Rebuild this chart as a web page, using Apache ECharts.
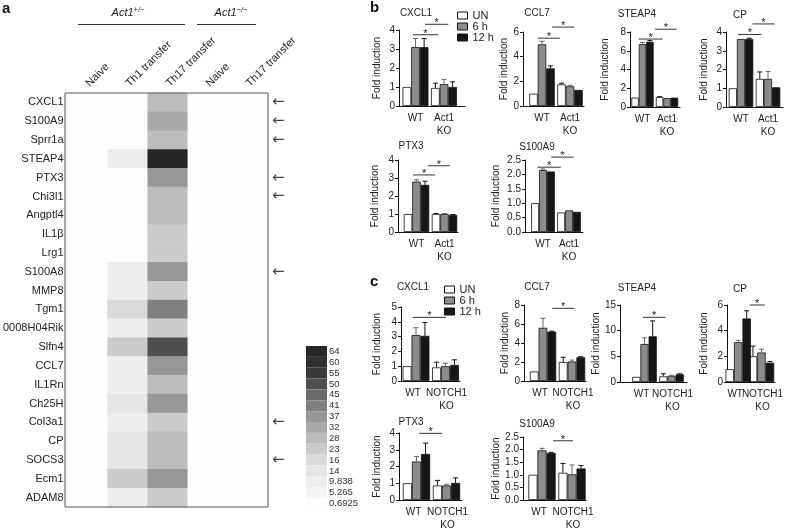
<!DOCTYPE html>
<html><head><meta charset="utf-8">
<script src="https://cdn.jsdelivr.net/npm/echarts@6/dist/echarts.min.js"></script>
<style>html,body{margin:0;padding:0;background:#fff}#c{width:786px;height:532px}</style>
</head><body><div id="c"></div>
<script>
const FONT = 'Liberation Sans, Arial, Helvetica, sans-serif';

// ---------- Panel a: heatmap data ----------
const genes = ['CXCL1','S100A9','Sprr1a','STEAP4','PTX3','Chi3l1','Angptl4','IL1β','Lrg1','S100A8','MMP8','Tgm1','0008H04Rik','Slfn4','CCL7','IL1Rn','Ch25H','Col3a1','CP','SOCS3','Ecm1','ADAM8'];
const conditions = ['Naive','Th1 transfer','Th17 transfer','Naive','Th17 transfer'];
const hetNaive = [0.6925,0.6925,0.6925,0.6925,0.6925,0.6925,0.6925,0.6925,0.6925,0.6925,0.6925,0.6925,0.6925,0.6925,0.6925,0.6925,0.6925,0.6925,0.6925,0.6925,0.6925,0.6925];
const hetTh1 = [0.6925,0.6925,0.6925,9.838,0.6925,0.6925,0.6925,0.6925,0.6925,9.838,9.838,16,9.838,23,9.838,9.838,14,9.838,14,14,23,9.838];
const hetTh17 = [28,32,28,64,37,28,28,23,23,37,23,41,23,50,37,28,37,23,28,28,37,23];
const koNaive = [0.6925,0.6925,0.6925,0.6925,0.6925,0.6925,0.6925,0.6925,0.6925,0.6925,0.6925,0.6925,0.6925,0.6925,0.6925,0.6925,0.6925,0.6925,0.6925,0.6925,0.6925,0.6925];
const koTh17 = [0.6925,0.6925,0.6925,0.6925,0.6925,0.6925,0.6925,0.6925,0.6925,0.6925,0.6925,0.6925,0.6925,0.6925,0.6925,0.6925,0.6925,0.6925,0.6925,0.6925,0.6925,0.6925];
const arrowGenes = ['CXCL1','S100A9','Sprr1a','PTX3','Chi3l1','S100A8','Col3a1','SOCS3'];
const cbValues = [64,60,55,50,45,41,37,32,28,23,16,14,9.838,5.265,0.6925];
const cbLabels = ['64','60','55','50','45','41','37','32','28','23','16','14','9.838','5.265','0.6925'];
const cbColors = ['#262626','#303030','#3b3b3b','#4f4f4f','#6a6a6a','#808080','#979797','#a9a9a9','#bcbcbc','#cbcbcb','#d9d9d9','#e5e5e5','#eeeeee','#f5f5f5','#fdfdfd'];

// ---------- Panels b, c: bar data ----------
const timePoints = ['UN','6 h','12 h'];
const groupsB = ['WT','Act1\nKO'];
const groupsC = ['WT','NOTCH1\nKO'];

// mean: [[WT UN,6h,12h],[KO UN,6h,12h]]; err same shape; sig: [fromOffset, toOffset, y]; ticks: [min,max,interval]
const bCXCL1Mean = [[1.0,3.1,3.1],[0.95,1.15,1.0]];
const bCXCL1Err  = [[0,0.45,0.45],[0.25,0.25,0.27]];
const bCXCL1Sig  = [[-0.3,-0.7,3.75],[1.1,0.5,4.3]];
const bCXCL1Ticks = [0,4,1];

const bCCL7Mean = [[1.0,5.0,3.05],[1.75,1.6,1.3]];
const bCCL7Err  = [[0,0.25,0.2],[0.1,0.08,0]];
const bCCL7Sig  = [[-0.5,-1.2,5.5],[1.2,0.5,6.4]];
const bCCL7Ticks = [0,6,2];

const bSTEAP4Mean = [[1.0,6.7,6.95],[1.05,0.95,1.0]];
const bSTEAP4Err  = [[0,0.2,0.15],[0.05,0,0]];
const bSTEAP4Sig  = [[-0.5,-0.6,7.25],[1.7,1.3,8.3]];
const bSTEAP4Ticks = [0,8,2];

const bCPMean = [[1.0,3.62,3.62],[1.5,1.5,1.05]];
const bCPErr  = [[0,0,0.05],[0.37,0.4,0]];
const bCPSig  = [[-0.35,-0.8,3.87],[1.4,0.8,4.43]];
const bCPTicks = [0,4,1];

const bPTX3Mean = [[1.0,2.8,2.62],[1.0,1.0,0.95]];
const bPTX3Err  = [[0,0.1,0.2],[0.03,0.03,0.02]];
const bPTX3Sig  = [[-0.4,-1.1,3.17],[1.35,0.65,3.68]];
const bPTX3Ticks = [0,4,1];

const bS100A9Mean = [[1.0,2.15,2.1],[0.68,0.75,0.7]];
const bS100A9Err  = [[0,0.04,0],[0,0,0]];
const bS100A9Sig  = [[-0.7,-1.05,2.25],[1.05,0.6,2.6]];
const bS100A9Ticks = [0,2.5,0.5];

const cCXCL1Mean = [[1.0,3.1,3.05],[0.92,1.0,1.08]];
const cCXCL1Err  = [[0,0.5,0.9],[0.35,0.2,0.35]];
const cCXCL1Sig  = [[-0.35,0.05,4.3]];
const cCXCL1Ticks = [0,5,1];

const cCCL7Mean = [[1.0,5.6,5.2],[2.0,2.05,2.5]];
const cCCL7Err  = [[0,1.0,0.05],[0.5,0.15,0.05]];
const cCCL7Sig  = [[1.05,0.25,7.65]];
const cCCL7Ticks = [0,8,2];

const cSTEAP4Mean = [[1.0,7.4,8.9],[1.1,1.2,1.5]];
const cSTEAP4Err  = [[0,1.2,3.0],[0.5,0.1,0.1]];
const cSTEAP4Sig  = [[-0.2,-0.75,12.6]];
const cSTEAP4Ticks = [0,15,5];

const cCPMean = [[1.0,3.1,4.95],[2.0,2.3,1.5]];
const cCPErr  = [[0,0.15,0.6],[0.8,0.25,0.1]];
const cCPSig  = [[1.35,0.4,6.0]];
const cCPTicks = [0,6,2];

const cPTX3Mean = [[1.0,2.3,2.75],[0.87,0.87,1.02]];
const cPTX3Err  = [[0,0.3,0.65],[0.3,0.07,0.3]];
const cPTX3Sig  = [[0.3,-0.5,3.98]];
const cPTX3Ticks = [0,4,1];

const cS100A9Mean = [[1.0,1.97,1.87],[1.08,1.02,1.25]];
const cS100A9Err  = [[0,0.08,0.02],[0.37,0.37,0.12]];
const cS100A9Sig  = [[1.2,0.1,2.35]];
const cS100A9Ticks = [0,2.5,0.5];

// ---------- layout (pixels): [axisX0, axisX1, yTop, yZero, wtCenter, koCenter, nameGap, titleCx, titleTop] ----------
const charts = [
  {title:'CXCL1', groups:groupsB, mean:bCXCL1Mean, err:bCXCL1Err, sig:bCXCL1Sig, ticks:bCXCL1Ticks, layout:[399,465,30,106,415.5,444,17,416,8]},
  {title:'CCL7', groups:groupsB, mean:bCCL7Mean, err:bCCL7Err, sig:bCCL7Sig, ticks:bCCL7Ticks, layout:[523,584,32,106,542,570,9,537,8]},
  {title:'STEAP4', groups:groupsB, mean:bSTEAP4Mean, err:bSTEAP4Err, sig:bSTEAP4Sig, ticks:bSTEAP4Ticks, layout:[630,680,32,107,642.5,667,20,637,9]},
  {title:'CP', groups:groupsB, mean:bCPMean, err:bCPErr, sig:bCPSig, ticks:bCPTicks, layout:[726,783,32,107,741,768,17,740,10]},
  {title:'PTX3', groups:groupsB, mean:bPTX3Mean, err:bPTX3Err, sig:bPTX3Sig, ticks:bPTX3Ticks, layout:[398,458,160,232,416.5,444.5,18,411,141]},
  {title:'S100A9', groups:groupsB, mean:bS100A9Mean, err:bS100A9Err, sig:bS100A9Sig, ticks:bS100A9Ticks, layout:[525,583,160,232,543,569,24,537,142], dec:1},
  {title:'CXCL1', groups:groupsC, mean:cCXCL1Mean, err:cCXCL1Err, sig:cCXCL1Sig, ticks:cCXCL1Ticks, layout:[401,460,307,381,416,445.5,19,413,282]},
  {title:'CCL7', groups:groupsC, mean:cCCL7Mean, err:cCCL7Err, sig:cCCL7Sig, ticks:cCCL7Ticks, layout:[524,586,305,381,543,572,12,537,282]},
  {title:'STEAP4', groups:groupsC, mean:cSTEAP4Mean, err:cSTEAP4Err, sig:cSTEAP4Sig, ticks:cSTEAP4Ticks, layout:[620,687,305,382,644.5,671.5,15,637,283]},
  {title:'CP', groups:groupsC, mean:cCPMean, err:cCPErr, sig:cCPSig, ticks:cCPTicks, layout:[727,785,305,382,740.5,768.5,18,740,284]},
  {title:'PTX3', groups:groupsC, mean:cPTX3Mean, err:cPTX3Err, sig:cPTX3Sig, ticks:cPTX3Ticks, layout:[399,462,433,506,416.5,446.5,17,411,417]},
  {title:'S100A9', groups:groupsC, mean:cS100A9Mean, err:cS100A9Err, sig:cS100A9Sig, ticks:cS100A9Ticks, layout:[523,586,437,506,542,572,21,537,419], dec:1}
];

const barColors = ['#ffffff','#8c8c8c','#161616'];
const errColors = ['#111111','#666666','#111111'];

const chart = echarts.init(document.getElementById('c'));
const grids = [], xAxes = [], yAxes = [], series = [], graphics = [];

// ---------- heatmap ----------
grids.push({left:65, top:93, width:203, height:414});
xAxes.push({type:'category', gridIndex:0, position:'top', data:conditions,
  axisLine:{show:false}, axisTick:{show:false}, splitLine:{show:false},
  axisLabel:{rotate:-45, interval:0, align:'left', verticalAlign:'middle', fontSize:11, color:'#222', margin:8, fontFamily:FONT}});
yAxes.push({type:'category', gridIndex:0, data:genes, inverse:true,
  axisLine:{show:false}, axisTick:{show:false},
  axisLabel:{interval:0, fontSize:11, color:'#222', margin:4, fontFamily:FONT}});
yAxes.push({type:'category', gridIndex:0, position:'right', data:genes, inverse:true,
  axisLine:{show:false}, axisTick:{show:false},
  axisLabel:{interval:0, formatter:g => arrowGenes.includes(g) ? '←' : '', fontSize:15, color:'#444', margin:4, fontFamily:'DejaVu Sans'}});
const heatCols = [hetNaive, hetTh1, hetTh17, koNaive, koTh17];
const heatData = [];
heatCols.forEach((col, c) => col.forEach((v, r) => heatData.push([c, r, v])));
series.push({type:'heatmap', xAxisIndex:0, yAxisIndex:0, data:heatData, silent:true,
  itemStyle:{borderWidth:0}, emphasis:{disabled:true}, progressive:0});

const pieces = cbValues.map((v, i) => ({
  min: i === cbValues.length - 1 ? -1 : (v + cbValues[i + 1]) / 2,
  max: i === 0 ? 1000 : (v + cbValues[i - 1]) / 2,
  label: cbLabels[i], color: cbColors[i]
}));

graphics.push({type:'rect', shape:{x:65, y:93, width:203, height:414}, style:{fill:'none', stroke:'#555', lineWidth:1}, z:100});

// ---------- bar charts ----------
charts.forEach(ch => {
  const [x0, x1, yT, y0, c0, c1, ng, tcx, tty] = ch.layout;
  const unit = c1 - c0;
  const bw = unit / 3.3;
  const gi = grids.length, xi = xAxes.length, yi = yAxes.length;
  const xMin = -(c0 - x0) / unit, xMax = 1 + (x1 - c1) / unit;
  const isC = ch.groups === groupsC;
  grids.push({left:x0, top:yT, width:x1 - x0, height:y0 - yT});
  // main x axis: line + WT label
  xAxes.push({type:'value', gridIndex:gi, min:xMin, max:xMax, position:'bottom',
    axisLine:{show:true, onZero:false, lineStyle:{color:'#111', width:1}},
    axisTick:{show:false}, splitLine:{show:false},
    axisLabel:{customValues:[0], formatter:() => ch.groups[0], fontSize:10, lineHeight:13, color:'#222', margin:6, fontFamily:FONT,
      padding: isC ? [0,6,0,0] : 0}});
  // companion x axis: KO label only
  xAxes.push({type:'value', gridIndex:gi, min:xMin, max:xMax, position:'bottom', offset:0,
    axisLine:{show:false, onZero:false}, axisTick:{show:false}, splitLine:{show:false},
    axisLabel:{customValues:[1], formatter:() => ch.groups[1], fontSize:10,
      padding: isC ? [0,0,0,2] : 0,
      lineHeight:13, color:'#222', margin:6, fontFamily:FONT}});
  yAxes.push({type:'value', gridIndex:gi, min:ch.ticks[0], max:ch.ticks[1], interval:ch.ticks[2],
    name:'Fold induction', nameLocation:'middle', nameGap:ng,
    nameTextStyle:{fontSize:10, color:'#222', fontFamily:FONT},
    axisLine:{show:true, onZero:false, lineStyle:{color:'#111', width:1}},
    axisTick:{show:true, length:3, lineStyle:{color:'#111'}},
    splitLine:{show:false},
    axisLabel:{fontSize:10, color:'#222', margin:4, fontFamily:FONT,
      formatter: ch.dec ? (v => v.toFixed(1)) : (v => String(v))}});
  for (let s = 0; s < 3; s++) {
    series.push({type:'bar', name:timePoints[s], xAxisIndex:xi, yAxisIndex:yi,
      data:[[0, ch.mean[0][s]], [1, ch.mean[1][s]]], barWidth:bw, barGap:'0%', silent:true,
      itemStyle:{color:barColors[s], borderColor:'#111', borderWidth:0.8}});
  }
  const errData = [];
  for (let g = 0; g < 2; g++) for (let s = 0; s < 3; s++) {
    if (ch.err[g][s] > 0) errData.push([g, ch.mean[g][s], s - 1, ch.err[g][s], s]);
  }
  series.push({type:'custom', name:'err', xAxisIndex:xi, yAxisIndex:yi, data:errData, silent:true, z:5,
    renderItem:(params, api) => {
      const p = api.coord([api.value(0), api.value(1)]);
      const t = api.coord([api.value(0), api.value(1) + api.value(3)]);
      const x = p[0] + api.value(2) * bw;
      const st = {stroke:errColors[api.value(4)], lineWidth:1};
      return {type:'group', children:[
        {type:'line', shape:{x1:x, y1:p[1], x2:x, y2:t[1]}, style:st},
        {type:'line', shape:{x1:x - 2.5, y1:t[1], x2:x + 2.5, y2:t[1]}, style:st}
      ]};
    }});
  series.push({type:'custom', name:'sig', xAxisIndex:xi, yAxisIndex:yi, silent:true, z:5,
    data:ch.sig.map(s => [0, s[2], s[0], s[1]]),
    renderItem:(params, api) => {
      const p0 = api.coord([0, api.value(1)]);
      const p1 = api.coord([1, api.value(1)]);
      const xa = p0[0] + api.value(2) * bw, xb = p1[0] + api.value(3) * bw;
      return {type:'group', children:[
        {type:'line', shape:{x1:xa, y1:p0[1], x2:xb, y2:p0[1]}, style:{stroke:'#333', lineWidth:1}},
        {type:'text', x:(xa + xb) / 2, y:p0[1] - 1, style:{text:'*', fontSize:11, fontFamily:FONT, fill:'#222', align:'center', verticalAlign:'middle'}}
      ]};
    }});
  graphics.push({type:'text', x:tcx, y:tty, style:{text:ch.title, fontSize:10, fontFamily:FONT, fill:'#222', align:'center', verticalAlign:'top'}});
});

// ---------- annotations ----------
graphics.push({type:'text', x:2, y:1, style:{text:'a', fontSize:15, fontWeight:'bold', fontFamily:FONT, fill:'#111'}});
graphics.push({type:'text', x:370, y:0, style:{text:'b', fontSize:15, fontWeight:'bold', fontFamily:FONT, fill:'#111'}});
graphics.push({type:'text', x:370, y:274, style:{text:'c', fontSize:15, fontWeight:'bold', fontFamily:FONT, fill:'#111'}});
const supRich = {
  i:{fontStyle:'italic', fontSize:11, fontFamily:FONT, fill:'#222', lineHeight:14},
  s:{fontStyle:'italic', fontSize:7.5, fontFamily:FONT, fill:'#222', verticalAlign:'top', lineHeight:14}
};
graphics.push({type:'text', x:128, y:6, style:{text:'{i|Act1}{s|+/−}', rich:supRich, align:'center'}});
graphics.push({type:'text', x:231, y:6, style:{text:'{i|Act1}{s|−/−}', rich:supRich, align:'center'}});
graphics.push({type:'line', shape:{x1:78, y1:24.5, x2:185, y2:24.5}, style:{stroke:'#333', lineWidth:1}});
graphics.push({type:'line', shape:{x1:197, y1:24.5, x2:256, y2:24.5}, style:{stroke:'#333', lineWidth:1}});

const legendData = [
  {name:'UN', itemStyle:{color:'#ffffff', borderColor:'#111', borderWidth:1}},
  {name:'6 h', itemStyle:{color:'#8c8c8c', borderColor:'#111', borderWidth:1}},
  {name:'12 h', itemStyle:{color:'#161616', borderColor:'#111', borderWidth:1}}
];
const legendBase = {data:legendData, orient:'vertical', icon:'rect', itemWidth:10, itemHeight:7, itemGap:0,
  padding:0, selectedMode:false, textStyle:{fontSize:11, color:'#222', fontFamily:FONT, lineHeight:9.5}};

chart.setOption({
  animation:false,
  textStyle:{fontFamily:FONT},
  grid:grids, xAxis:xAxes, yAxis:yAxes, series:series,
  legend:[Object.assign({left:457, top:10}, legendBase), Object.assign({left:444, top:284}, legendBase)],
  visualMap:{type:'piecewise', seriesIndex:0, pieces:pieces, orient:'vertical', left:306, top:346,
    itemWidth:21, itemHeight:10.86, itemGap:0, itemSymbol:'rect', textGap:2, align:'left',
    selectedMode:false, hoverLink:false, padding:0,
    textStyle:{fontSize:9.5, color:'#333', fontFamily:FONT}},
  graphic:graphics
});
</script></body></html>
